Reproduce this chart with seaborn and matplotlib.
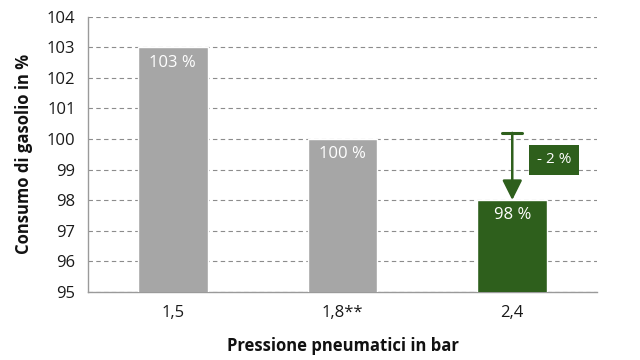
import matplotlib
matplotlib.use("Agg")
import matplotlib.pyplot as plt
import pandas as pd
import seaborn as sns

categories = ["1,5", "1,8**", "2,4"]
consumption = [103, 100, 98]
bar_labels = ["103 %", "100 %", "98 %"]
bar_colors = ["#a6a6a6", "#a6a6a6", "#2e5f1c"]
diff_label = "- 2 %"
diff_from = 100.2

sns.set_theme(style="white")
plt.rcParams["font.family"] = ["Open Sans", "DejaVu Sans"]

df = pd.DataFrame({"pressione": categories, "consumo": consumption})

fig, ax = plt.subplots(figsize=(6.4, 3.6), dpi=100)
fig.subplots_adjust(left=0.1375, right=0.933, top=0.953, bottom=0.19)

sns.barplot(data=df, x="pressione", y="consumo", hue="pressione",
            palette=bar_colors, width=0.41, legend=False, ax=ax, zorder=3,
            saturation=1)

ax.set_ylim(95, 104)
ax.set_xlim(-0.5, 2.5)
ax.set_yticks(range(95, 105))
ax.yaxis.grid(True, linestyle=(0, (4, 3)), color="#8c8c8c", linewidth=0.8)
ax.set_axisbelow(True)

for i, (val, lab) in enumerate(zip(consumption, bar_labels)):
    ax.text(i, val - 0.5, lab, ha="center", va="center", color="white",
            fontsize=12, fontweight="medium", zorder=4)

# arrow showing the reduction
ax.annotate("", xy=(2, consumption[2]), xytext=(2, diff_from),
            arrowprops=dict(arrowstyle="-|>", color="#2e5f1c", lw=1.8,
                            mutation_scale=30, shrinkA=0, shrinkB=0), zorder=5)
ax.plot([1.94, 2.06], [diff_from, diff_from], color="#2e5f1c", lw=2.2, zorder=5)
ax.text(2.247, 99.32, diff_label, ha="center", va="center", color="white",
        fontsize=11, zorder=6,
        bbox=dict(boxstyle="square,pad=0.5", fc="#2e5f1c", ec="none"))

for side in ["top", "right"]:
    ax.spines[side].set_visible(False)
for side in ["left", "bottom"]:
    ax.spines[side].set_color("#9a9a9a")
    ax.spines[side].set_linewidth(1)

ax.tick_params(axis="x", which="major", length=0, labelsize=12, pad=10, colors="#1a1a1a")
ax.set_xticks([-0.5, 0.5, 1.5, 2.5], minor=True)
ax.tick_params(axis="x", which="minor", length=5, color="#9a9a9a", direction="out")
ax.tick_params(axis="y", length=5, color="#9a9a9a", direction="out", labelsize=12,
               labelcolor="#1a1a1a", pad=4)

ax.set_xlabel("Pressione pneumatici in bar", fontsize=12, fontweight="bold",
              labelpad=11, color="#111111")
ax.set_ylabel("Consumo di gasolio in %", fontsize=12, fontweight="bold",
              labelpad=10, color="#111111")

fig.savefig("out.png", dpi=100)
